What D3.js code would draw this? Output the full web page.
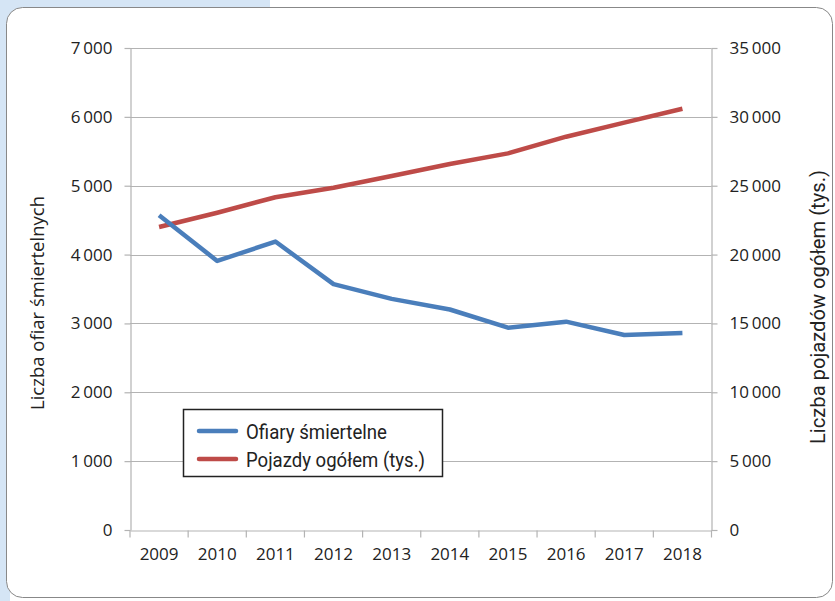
<!DOCTYPE html>
<html>
<head>
<meta charset="utf-8">
<script src="https://cdnjs.cloudflare.com/ajax/libs/d3/7.8.5/d3.min.js"></script>
<style>
  body { margin: 0; background: #fff; }
  svg { display: block; }
  .tick text { font-family: "Open Sans", sans-serif; font-size: 17px; fill: #222; }
</style>
</head>
<body>
<script>
// data
var years = ["2009", "2010", "2011", "2012", "2013", "2014", "2015", "2016", "2017", "2018"];
var deaths = [4572, 3907, 4189, 3571, 3357, 3202, 2938, 3026, 2831, 2862];
var vehicles = [22000, 23040, 24160, 24850, 25700, 26575, 27350, 28560, 29580, 30590];
var leftTicks = [0, 1000, 2000, 3000, 4000, 5000, 6000, 7000];
var rightTicks = [0, 5000, 10000, 15000, 20000, 25000, 30000, 35000];
var seriesNames = ["Ofiary śmiertelne", "Pojazdy ogółem (tys.)"];
var colors = ["#4a7ebb", "#be4b48"];

var W = 835, H = 601;
var svg = d3.select("body").append("svg").attr("width", W).attr("height", H);

// background frame
svg.append("rect").attr("x", 0).attr("y", 0).attr("width", 270).attr("height", 40).attr("fill", "#d5e5f5");
svg.append("rect").attr("x", 0).attr("y", 0).attr("width", 10).attr("height", H).attr("fill", "#d5e5f5");
svg.append("rect").attr("x", 6.5).attr("y", 7.5).attr("width", 826).attr("height", 590)
  .attr("rx", 16).attr("fill", "#fff").attr("stroke", "#888").attr("stroke-width", 1);

var pl = 130, pr = 711.5, pt = 48, pb = 530;
var fmt = d3.formatLocale({ decimal: ",", thousands: "\u2009", grouping: [3], currency: ["", ""] }).format(",d");

var x = d3.scaleBand().domain(years).range([pl, pr]);
var yL = d3.scaleLinear().domain([0, 7000]).range([pb, pt]);
var yR = d3.scaleLinear().domain([0, 35000]).range([pb, pt]);

// gridlines
svg.append("g").selectAll("line").data(leftTicks.slice(1)).join("line")
  .attr("x1", pl).attr("x2", pr)
  .attr("y1", function(d) { return Math.round(yL(d)) + 0.5; })
  .attr("y2", function(d) { return Math.round(yL(d)) + 0.5; })
  .attr("stroke", "#b3b3b3").attr("stroke-width", 1.2);

function styleAxis(g) {
  g.select(".domain").attr("stroke", "#b3b3b3").attr("stroke-width", 1.2);
  g.selectAll(".tick line").attr("stroke", "#b3b3b3").attr("stroke-width", 1.2);
}

svg.append("g").attr("transform", "translate(" + (pl + 0.5) + ",0)")
  .call(d3.axisLeft(yL).tickValues(leftTicks).tickFormat(fmt).tickSize(6).tickSizeOuter(0).tickPadding(12))
  .call(styleAxis);

svg.append("g").attr("transform", "translate(" + pr + ",0)")
  .call(d3.axisRight(yR).tickValues(rightTicks).tickFormat(fmt).tickSize(6).tickSizeOuter(0).tickPadding(12))
  .call(styleAxis);

// x axis with ticks between categories
var xg = svg.append("g").attr("transform", "translate(0," + (pb + 0.5) + ")")
  .call(d3.axisBottom(x).tickSize(0).tickPadding(17))
  .call(styleAxis);
xg.selectAll(".boundary").data(d3.range(years.length + 1)).join("line")
  .attr("x1", function(i) { return pl + i * x.step(); })
  .attr("x2", function(i) { return pl + i * x.step(); })
  .attr("y1", 0).attr("y2", 7)
  .attr("stroke", "#b3b3b3").attr("stroke-width", 1.2);

// lines
var lineL = d3.line().x(function(d, i) { return x(years[i]) + x.bandwidth() / 2; }).y(function(d) { return yL(d); });
var lineR = d3.line().x(function(d, i) { return x(years[i]) + x.bandwidth() / 2; }).y(function(d) { return yR(d); });

svg.append("path").datum(vehicles).attr("d", lineR).attr("fill", "none")
  .attr("stroke", colors[1]).attr("stroke-width", 4.5).attr("stroke-linejoin", "round");
svg.append("path").datum(deaths).attr("d", lineL).attr("fill", "none")
  .attr("stroke", colors[0]).attr("stroke-width", 4.5).attr("stroke-linejoin", "round");

// axis titles
svg.append("text").attr("transform", "translate(44,303) rotate(-90)")
  .attr("text-anchor", "middle").attr("font-family", "'Open Sans', sans-serif")
  .attr("font-size", 18.5).attr("fill", "#222").text("Liczba ofiar śmiertelnych");
svg.append("text").attr("transform", "translate(825,307) rotate(-90)")
  .attr("text-anchor", "middle").attr("font-family", "Roboto, sans-serif")
  .attr("font-size", 21).attr("fill", "#222")
  .attr("textLength", 274).attr("lengthAdjust", "spacingAndGlyphs")
  .text("Liczba pojazdów ogółem (tys.)");

// legend
var legendWidths = [141, 179];
var lg = svg.append("g");
lg.append("rect").attr("x", 183.5).attr("y", 409.5).attr("width", 259).attr("height", 67)
  .attr("fill", "#fff").attr("stroke", "#222").attr("stroke-width", 1.5);
seriesNames.forEach(function(name, i) {
  var cy = 431 + i * 28;
  lg.append("line").attr("x1", 199).attr("x2", 236).attr("y1", cy).attr("y2", cy)
    .attr("stroke", colors[i]).attr("stroke-width", 4.5).attr("stroke-linecap", "round");
  lg.append("text").attr("x", 246).attr("y", cy).attr("dy", "0.36em")
    .attr("font-family", "Roboto, sans-serif")
    .attr("font-size", 21).attr("fill", "#222")
    .attr("textLength", legendWidths[i]).attr("lengthAdjust", "spacingAndGlyphs")
    .text(name);
});
</script>
</body>
</html>
